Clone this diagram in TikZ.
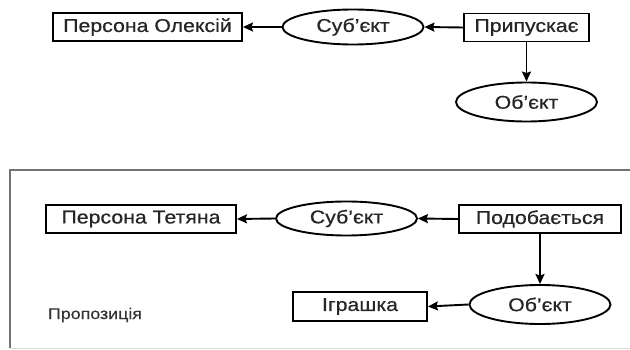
\documentclass[tikz,border=0pt]{standalone}
\usepackage{fontspec}
\setmainfont{Liberation Sans}[FakeStretch=1.15, FakeBold=0.6]
\usetikzlibrary{shapes.geometric,arrows.meta}

\tikzset{
  concept/.style={draw, line width=1.9pt, rectangle, inner sep=0pt,
    minimum height=28pt, font=\fontsize{18.5}{20}\selectfont, text=black!85},
  role/.style={draw, line width=1.9pt, ellipse, inner sep=0pt,
    minimum width=141pt, minimum height=35pt,
    font=\fontsize{18.5}{20}\selectfont, text=black!85},
  link/.style={line width=1.9pt, -{Stealth[length=10pt,width=9pt,inset=1.5pt]}},
  framebox/.style={line width=1.6pt, draw=black!55},
  caption/.style={font=\fontsize{15.5}{17}\selectfont, text=black!80, inner sep=0pt}
}

\begin{document}
\begin{tikzpicture}[x=1pt, y=-1pt]
  \useasboundingbox (0,0) rectangle (630,350);

  % first proposition
  \node[concept, minimum width=189pt] (p1) at (147.5,27) {Персона Олексій};
  \node[role] (s1) at (353,27) {Суб’єкт};
  \node[concept, minimum width=125pt] (v1) at (526.5,27.5) {Припускає};
  \node[role, minimum height=39pt] (o1) at (526.5,102) {Об’єкт};

  \draw[link] (v1.west) -- (s1.east);
  \draw[link] (s1.west) -- (p1.east);
  \draw[link] (v1.south) -- (o1.north);

  % frame around the second proposition
  \coordinate (fTR) at (630,170);
  \coordinate (fTL) at (10,170);
  \coordinate (fBL) at (10,348);
  \coordinate (fBR) at (630,348);
  \draw[framebox] (fTR) -- (fTL) -- (fBL);
  \draw[line width=1pt, draw=black!15] (fBL) -- (fBR);

  % second proposition
  \node[concept, minimum width=190pt] (p2) at (141,219) {Персона Тетяна};
  \node[role, minimum height=34pt] (s2) at (346.5,218.5) {Суб’єкт};
  \node[concept, minimum width=162pt] (v2) at (540,219) {Подобається};
  \node[role, minimum height=39pt] (o2) at (540,304.5) {Об’єкт};
  \node[concept, minimum width=134pt, minimum height=29pt] (i2) at (360,306.5) {Іграшка};
  \node[caption] (cap) at (95,315) {Пропозиція};

  \draw[link] (v2.west) -- (s2.east);
  \draw[link] (s2.west) -- (p2.east);
  \draw[link] (v2.south) -- (o2.north);
  \draw[link] (o2.west) -- (i2.east);
\end{tikzpicture}
\end{document}
